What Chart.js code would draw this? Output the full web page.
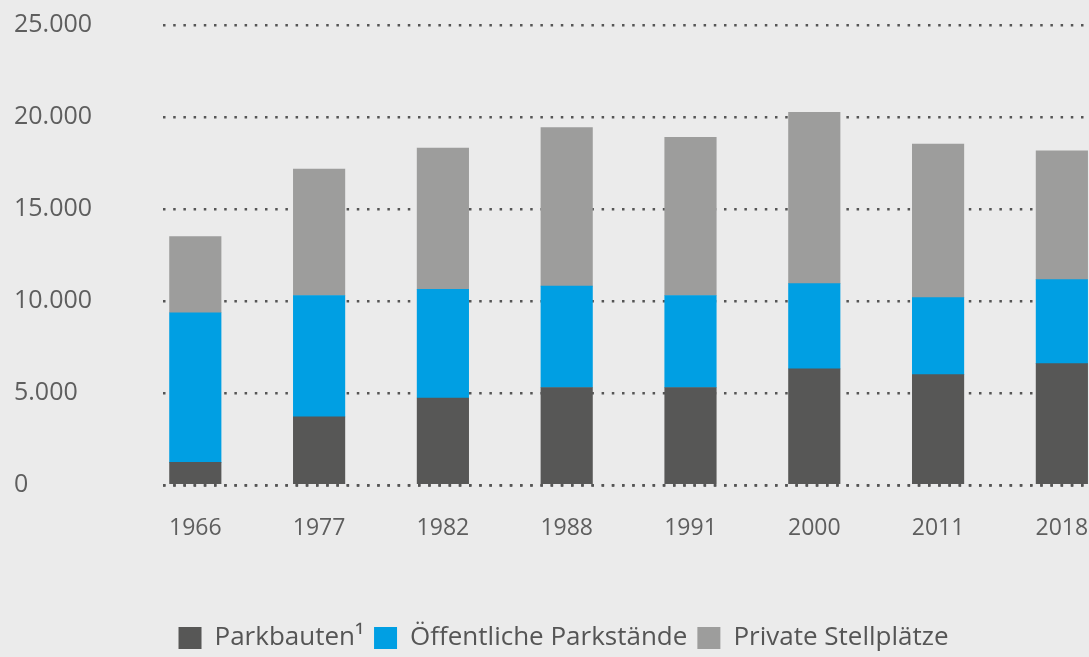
<!DOCTYPE html>
<html>
<head>
<meta charset="utf-8">
<script src="https://cdn.jsdelivr.net/npm/chart.js@4"></script>
<style>
  html, body { margin: 0; padding: 0; background: #ebebeb; overflow: hidden; }
  #wrap { width: 1089px; height: 657px; overflow: hidden; }
</style>
</head>
<body>
<div id="wrap"><canvas id="myChart" width="1113" height="661"></canvas></div>
<script>
// daten
const years = ['1966', '1977', '1982', '1988', '1991', '2000', '2011', '2018'];
const parkbauten = [1230, 3700, 4730, 5300, 5300, 6310, 6000, 6600];
const oeffentlich = [8130, 6600, 5900, 5510, 5000, 4630, 4180, 4560];
const privat = [4140, 6870, 7680, 8620, 8590, 9310, 8350, 7000];
const yTicks = [0, 5000, 10000, 15000, 20000, 25000];

const toPoints = arr => arr.map((v, i) => ({x: i, y: v}));
const dotted = [2.5, 7.7];

// gepunktete nulllinie ueber den balken
const baseline = {
    id: 'baseline',
    afterDatasetsDraw(chart) {
        const {ctx, chartArea, scales} = chart;
        const y = Math.round(scales.y.getPixelForValue(0)) + 0.5;
        ctx.save();
        ctx.strokeStyle = '#555';
        ctx.lineWidth = 2.5;
        ctx.setLineDash(dotted);
        ctx.beginPath();
        ctx.moveTo(chartArea.left, y);
        ctx.lineTo(chartArea.right, y);
        ctx.stroke();
        ctx.restore();
    }
};

Chart.defaults.font.family = '"Open Sans", sans-serif';
Chart.defaults.color = '#5e5e5e';

var ctx = document.getElementById('myChart');
var myChart = new Chart(ctx, {
    type: 'bar',
    data: {
        datasets: [
            {label: 'Parkbauten¹', data: toPoints(parkbauten), backgroundColor: '#575756'},
            {label: 'Öffentliche Parkstände', data: toPoints(oeffentlich), backgroundColor: '#009fe3'},
            {label: 'Private Stellplätze', data: toPoints(privat), backgroundColor: '#9d9d9c'}
        ]
    },
    options: {
        responsive: false,
        animation: false,
        barThickness: 51.5,
        layout: {padding: {left: 14, top: 25, right: 0, bottom: 0}},
        plugins: {
            tooltip: {enabled: false},
            legend: {
                position: 'bottom',
                labels: {
                    boxWidth: 23,
                    boxHeight: 22,
                    padding: 10,
                    color: '#555',
                    font: {size: 26}
                }
            }
        },
        scales: {
            x: {
                type: 'linear',
                stacked: true,
                offset: false,
                min: -0.261,
                max: 7.413,
                afterBuildTicks: s => { s.ticks = years.map((_, i) => ({value: i})); },
                afterFit: s => { s.height = 130; },
                grid: {display: false},
                border: {display: false},
                ticks: {
                    autoSkip: false,
                    maxRotation: 0,
                    padding: 22,
                    font: {size: 23},
                    callback: v => years[v]
                }
            },
            y: {
                stacked: true,
                min: 0,
                max: 25000,
                afterBuildTicks: s => { s.ticks = yTicks.map(v => ({value: v})); },
                afterFit: s => { s.width = 149; },
                grid: {color: '#555', lineWidth: 2.5, drawTicks: false},
                border: {display: false, dash: dotted},
                ticks: {
                    crossAlign: 'far',
                    font: {size: 25},
                    callback: v => v.toLocaleString('de-DE')
                }
            }
        }
    },
    plugins: [baseline]
});
</script>
</body>
</html>
